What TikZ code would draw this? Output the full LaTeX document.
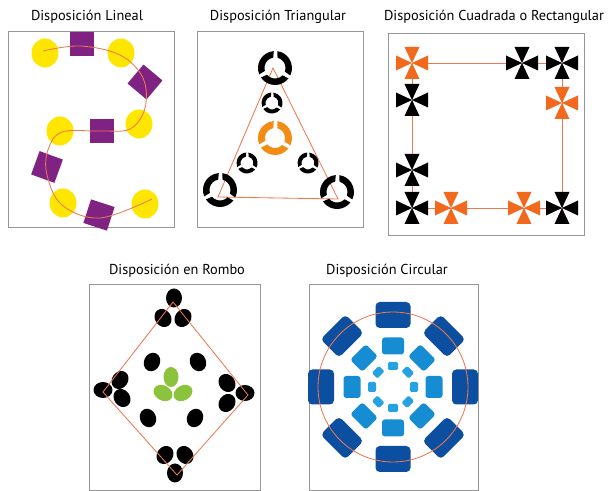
\documentclass[tikz,border=0pt]{standalone}
\usepackage{fontspec}
\setmainfont{PT Sans}
\definecolor{linea}{RGB}{236,120,80}
\definecolor{marco}{RGB}{150,150,150}
\definecolor{amarillo}{RGB}{255,230,0}
\definecolor{violeta}{RGB}{128,34,130}
\definecolor{naranja}{RGB}{242,140,20}
\definecolor{cruz}{RGB}{242,105,30}
\definecolor{verde}{RGB}{140,195,60}
\definecolor{azulA}{RGB}{12,78,160}
\definecolor{azulB}{RGB}{22,140,210}
\definecolor{azulC}{RGB}{38,162,226}
\begin{document}
\begin{tikzpicture}[x=0.025cm,y=0.025cm]
\tikzstyle{frame}=[draw=marco,line width=0.7pt]
\tikzstyle{guide}=[draw=linea,line width=0.6pt]
\tikzstyle{title}=[font=\fontsize{10.2}{12}\selectfont,inner sep=0pt]
\tikzstyle{sq}=[fill=violeta,minimum size=0.62cm,inner sep=0pt]
\useasboundingbox (0,0) rectangle (608,-491);
% titulos
\node[title] (t1) at (87,-17) {Disposición Lineal};
\node[title] (t2) at (278,-17) {Disposición Triangular};
\node[title] (t3) at (494,-17) {Disposición Cuadrada o Rectangular};
\node[title] (t4) at (177,-271) {Disposición en Rombo};
\node[title] (t5) at (387,-271) {Disposición Circular};
% marcos
\draw[frame] (8,-31) rectangle (174,-227);
\draw[frame] (197,-31) rectangle (363,-227);
\draw[frame] (388,-33) rectangle (584,-235);
\draw[frame] (89,-284) rectangle (260,-490);
\draw[frame] (309,-284) rectangle (478,-490);
% lineal
\foreach \x/\y in {45/53,121/53,139/124,60/131,63/203,145/204}
  \fill[amarillo] (\x,-\y) ellipse[x radius=13.5,y radius=14.5];
\node[sq] (s1) at (82,-44) {};
\node[sq,rotate=-40] (s2) at (145,-82) {};
\node[sq] (s3) at (102,-131) {};
\node[sq,rotate=-20] (s4) at (47,-167) {};
\node[sq,rotate=-18] (s5) at (99,-215) {};
\draw[guide] plot[smooth,tension=0.6] coordinates {(43,-51) (80,-46) (120,-55) (143,-78)
  (145,-108) (130,-129) (100,-131) (62,-132) (48,-150) (47,-175) (62,-205) (100,-218) (152,-199)};
% triangular
\draw[guide] (273,-68) -- (218,-197) -- (338,-199) -- cycle;
\foreach \x/\y/\ro/\ri/\c in {275/68/17/10.5/black,272/103/10.5/6.5/black,247/163/10.5/6.5/black,
  308/163/10.5/6.5/black,220/190/17/10.5/black,337/192/17/10.5/black,275/138/17/10/naranja}
  \foreach \a in {30,150,270}
    \fill[\c] (\x,-\y) ++(\a-56:\ro) arc[start angle=\a-56,end angle=\a+52,radius=\ro]
      -- ([shift={(\a+46:\ri)}]\x,-\y) arc[start angle=\a+46,end angle=\a-50,radius=\ri] -- cycle;
% cuadrada
\draw[guide] (412,-63) rectangle (562,-208);
\foreach \x/\y/\c in {412/63/cruz,522/63/black,562/63/black,412/100/black,562/103/cruz,
  412/170/black,412/208/black,451/208/cruz,524/208/cruz,562/208/black}
  \foreach \a in {0,90,180,270}
    \fill[\c,rotate around={\a:(\x,-\y)}] (\x,-\y) -- ++(-7.5,16) -- ++(15,0) -- cycle;
% rombo
\foreach \x/\y/\r in {174/298/0,163/318/35,183/318/-35,103/390/90,120/380/-35,122/398/35,
  245/393/90,227/383/35,227/403/-35,165/455/-35,185/455/35,175/473/0,
  152/362/-25,198/362/25,148/418/25,195/418/-25}
  \fill[black,rotate around={\r:(\x,-\y)}] (\x,-\y) ellipse[x radius=8,y radius=9.5];
\foreach \x/\y/\r in {171/377/0,163/393/60,183/393/-60}
  \fill[verde,rotate around={\r:(\x,-\y)}] (\x,-\y) ellipse[x radius=7.5,y radius=10];
\draw[guide] (173,-302) -- (248,-395) -- (177,-475) -- (103,-392) -- cycle;
% circular
\begin{scope}[shift={(393,-387)}]
\foreach \a in {0,45,...,315} {
  \fill[azulA,rounded corners=3pt,rotate=\a] (59,-17.5) rectangle (85,17.5);
  \fill[azulB,rounded corners=2pt,rotate=\a] (32.5,-11) rectangle (49.5,11);
  \fill[azulC,rounded corners=1pt,rotate=\a] (17,-5) rectangle (25,5);
}
\draw[guide] (0,0) circle[radius=75];
\end{scope}
\end{tikzpicture}
\end{document}
